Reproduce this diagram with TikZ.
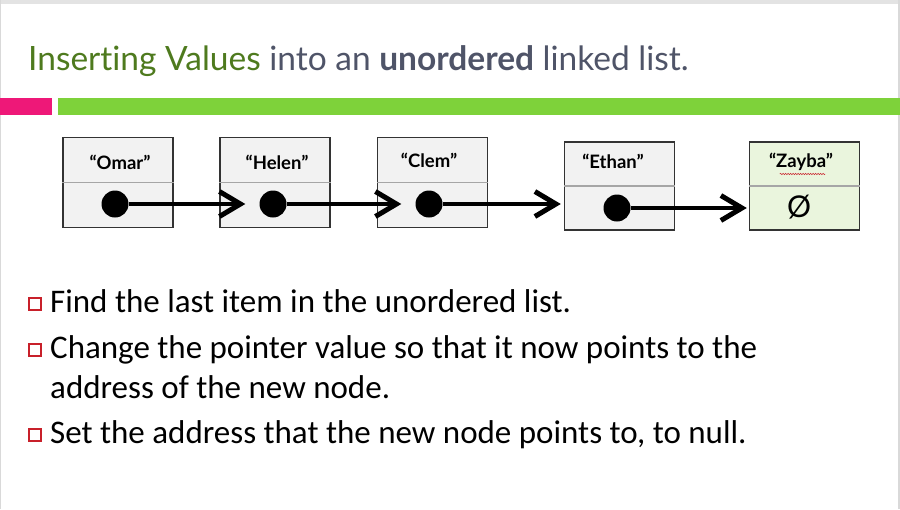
\documentclass[tikz,border=0pt]{standalone}
\usepackage{fontspec}
\setmainfont{Carlito}
\newfontfamily\headfont[Ligatures = NoCommon]{Lato}
\usepackage{tikz}
\usetikzlibrary{arrows.meta}
\usetikzlibrary{decorations.pathmorphing}
\usetikzlibrary{positioning}
\definecolor{mgreen}{HTML}{4E7A1E}
\definecolor{mslate}{HTML}{4F5468}
\definecolor{mpink}{HTML}{EE1878}
\definecolor{mbar}{HTML}{7ED23A}
\definecolor{mcell}{HTML}{F2F2F2}
\definecolor{mnull}{HTML}{EAF5DD}
\definecolor{mred}{HTML}{C8202A}
\tikzset{cell/.style = {draw = black!80, fill = mcell, line width = 1.4pt,
                        minimum width = 110pt, minimum height = 90pt, inner sep = 0}}
\tikzset{split/.style = {draw = black!35, line width = 1.2pt}}
\tikzset{lbl/.style = {font = \headfont\fontsize{18.5}{18.5}\selectfont\bfseries, inner sep = 0}}
\tikzset{circ/.style = {fill, circle, inner sep = 0, minimum size = 27pt}}
\tikzset{ptr/.style = {line width = 3.6pt,
                       -{Straight Barb[length = 21pt, width = 25pt, line width = 5pt]}}}
\tikzset{bulletsq/.style = {draw = mred, line width = 2pt, minimum size = 12pt, inner sep = 0}}
\tikzset{item/.style = {anchor = base west, inner sep = 0, align = left,
                        font = \fontsize{33}{40}\selectfont}}

\begin{document}
\begin{tikzpicture}[x = 1pt, y = -1pt]
      \useasboundingbox (0, 0) rectangle (900, 509);
      % frame and bars
      \fill [black!11] (0, 0) rectangle (900, 4);
      \fill [black!15] (0, 0) rectangle (1, 509);
      \fill [black!15] (898, 0) rectangle (900, 509);
      \fill [mpink] (0, 98) rectangle (52, 115);
      \fill [mbar] (58, 98) rectangle (900, 115);

      \node [anchor = base west, inner sep = 0, text = mslate,
             font = \headfont\fontsize{33.5}{33.5}\selectfont] (title) at (28, 70)
            {{\color{mgreen}Inserting Values} into an \textbf{unordered} linked list.};

      % the list
      \node [cell] (omar) at (118, 182.5) {};
      \node [cell] (helen) at (275, 182.5) {};
      \node [cell] (clem) at (432.5, 182.5) {};
      \node [cell, minimum height = 88pt] (ethan) at (619.5, 186) {};
      \node [cell, minimum height = 88pt, fill = mnull] (zayba) at (804.5, 186) {};

      \foreach \c in {omar, helen, clem, ethan, zayba}
        \draw [split] (\c.west) -- (\c.east);

      \node [lbl] (omarlbl) at (120, 162) {“Omar”};
      \node [lbl] (helenlbl) at (277, 162) {“Helen”};
      \node [lbl] (clemlbl) at (429, 160) {“Clem”};
      \node [lbl] (ethanlbl) at (613, 161) {“Ethan”};
      \node [lbl] (zaybalbl) at (801, 162) {“Zayba”};
      \draw [mred, line width = 0.5pt, decorate,
             decoration = {snake, amplitude = 0.7pt, segment length = 2.5pt}]
            ([yshift = -3pt] zaybalbl.south west) ++(11, 0) -- ([yshift = -3pt, xshift = -8pt] zaybalbl.south east);

      \node [circ] (omardot) at (115, 204) {};
      \node [circ] (helendot) at (273, 204) {};
      \node [circ] (clemdot) at (429, 204) {};
      \node [circ] (ethandot) at (617, 208) {};
      \node [font = \headfont\fontsize{30}{30}\selectfont] (zaybanull) at (799, 207) {Ø};

      \draw [ptr, shorten >= 14pt] (omardot) -- (helendot);
      \draw [ptr, shorten >= 14pt] (helendot) -- (clemdot);
      \draw [ptr, shorten >= 3pt] (clemdot) -- (clemdot -| ethan.west);
      \draw [ptr, shorten >= 2pt] (ethandot) -- (ethandot -| zayba.west);

      % bullets
      \node [bulletsq] (b1) at (35, 304) {};
      \node [bulletsq] (b2) at (35, 350) {};
      \node [bulletsq] (b3) at (35, 435) {};
      \node [item] (t1) at (50, 312) {Find the last item in the unordered list.};
      \node [item] (t2) at (50, 398) {Change the pointer value so that it now points to the\\
                                      address of the new node.};
      \node [item] (t3) at (50, 443) {Set the address that the new node points to, to null.};
\end{tikzpicture}
\end{document}
